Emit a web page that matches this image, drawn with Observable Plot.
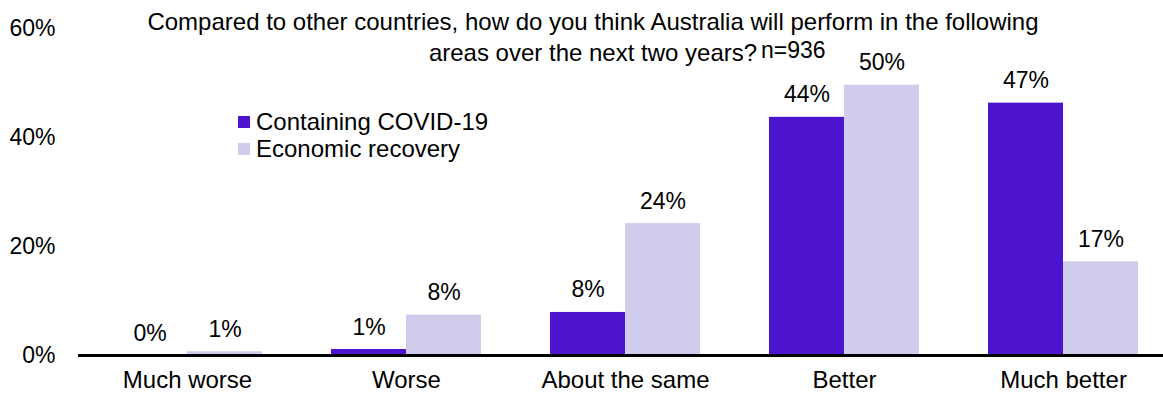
<!DOCTYPE html>
<html>
<head>
<meta charset="utf-8">
<script src="https://cdn.jsdelivr.net/npm/d3@7"></script>
<script src="https://cdn.jsdelivr.net/npm/@observablehq/plot@0.6"></script>
<style>
  body { margin: 0; background: #fff; font-family: "Liberation Sans", Arial, sans-serif; }
  #wrap { position: relative; width: 1163px; height: 394px; overflow: hidden; }
  #wrap svg { position: absolute; left: 0; top: 0; }
  .title { position: absolute; left: 93px; top: 6px; width: 1000px; text-align: center; font-size: 24px; line-height: 31px; color: #000; }
  .n { position: absolute; left: 761px; top: 35px; font-size: 23px; line-height: 31px; }
  .legend { position: absolute; left: 238px; top: 108px; font-size: 24px; }
  .legend .row { display: flex; align-items: center; height: 27px; }
  .legend .sw { width: 12px; height: 12px; margin-right: 6px; }
</style>
</head>
<body>
<div id="wrap"></div>
<script>
const categories = ["Much worse", "Worse", "About the same", "Better", "Much better"];
const series = ["Containing COVID-19", "Economic recovery"];
const covid = [0, 1.1, 7.9, 43.7, 46.3];
const economic = [0.7, 7.4, 24.2, 49.6, 17.2];
const covidLabels = ["0%", "1%", "8%", "44%", "47%"];
const economicLabels = ["1%", "8%", "24%", "50%", "17%"];
const yTicks = [0, 20, 40, 60];
const colors = ["#4d14cf", "#d0cdec"];
const titleLines = ["Compared to other countries, how do you think Australia will perform in the following", "areas over the next two years?"];
const note = "n=936";

const covidData = categories.map((c, i) => ({category: c, value: covid[i], label: covidLabels[i]}));
const econData = categories.map((c, i) => ({category: c, value: economic[i], label: economicLabels[i]}));

const half = 75;
const chart = Plot.plot({
  width: 1163,
  height: 394,
  marginTop: 28,
  marginBottom: 39,
  marginLeft: 78,
  marginRight: 0,
  style: {fontFamily: "Liberation Sans, Arial, sans-serif", fontSize: "23px", color: "#000", background: "transparent"},
  x: {domain: categories, range: [77.5, 1172.5], paddingInner: 0.315, paddingOuter: 0.1575, axis: null},
  y: {domain: [0, 60], axis: null},
  marks: [
    Plot.barY(covidData, {x: "category", y: "value", fill: colors[0], insetRight: half}),
    Plot.barY(econData, {x: "category", y: "value", fill: colors[1], insetLeft: half}),
    Plot.text(covidData, {x: "category", y: "value", text: "label", dx: -37.5, dy: -15, lineAnchor: "bottom", fontSize: 23, fill: "#000"}),
    Plot.text(econData, {x: "category", y: "value", text: "label", dx: 37.5, dy: -15, lineAnchor: "bottom", fontSize: 23, fill: "#000"}),
    Plot.ruleY([0], {stroke: "#000", strokeWidth: 3}),
    Plot.axisY({ticks: yTicks, tickFormat: d => d + "%", tickSize: 0, tickPadding: 23, fontSize: 23, label: null}),
    Plot.axisX({tickSize: 0, tickPadding: 15, fontSize: 24, label: null})
  ]
});

const wrap = document.getElementById("wrap");
wrap.appendChild(chart);

const t = document.createElement("div");
t.className = "title";
t.innerHTML = titleLines.map(l => `<div>${l}</div>`).join("");
wrap.appendChild(t);

const n = document.createElement("div");
n.className = "n";
n.textContent = note;
wrap.appendChild(n);

const lg = document.createElement("div");
lg.className = "legend";
series.forEach((s, i) => {
  const row = document.createElement("div");
  row.className = "row";
  row.innerHTML = `<span class="sw" style="background:${colors[i]}"></span><span>${s}</span>`;
  lg.appendChild(row);
});
wrap.appendChild(lg);
</script>
</body>
</html>
